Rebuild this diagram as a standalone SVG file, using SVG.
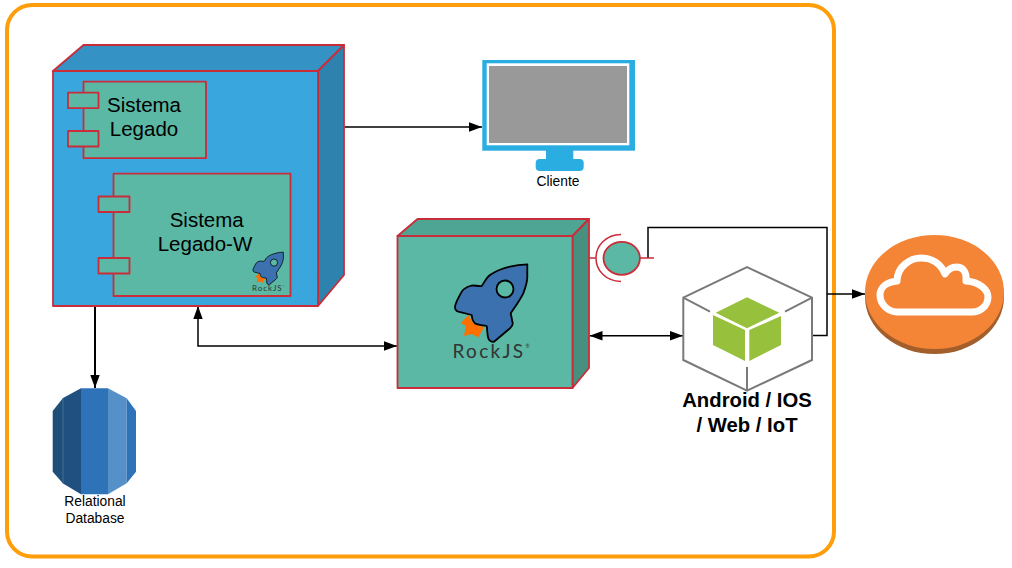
<svg xmlns="http://www.w3.org/2000/svg" xmlns:xlink="http://www.w3.org/1999/xlink" width="1012" height="568" viewBox="0 0 1012 568">
<style>
.lbl{font-family:"Liberation Sans",Arial,sans-serif;fill:#000;text-anchor:middle}
.big{font-size:20.500px}
.sm{font-size:13.800px}
.b{font-size:20.300px;font-weight:bold}
.red{stroke:#c92d39;stroke-width:1.800;stroke-linejoin:round}
.teal{fill:#5ab8a4}
.conn{fill:none;stroke:#000;stroke-width:1.500}
.hex{fill:none;stroke:#7a7a7a;stroke-width:2}
</style>
<defs>
<marker id="arr" markerUnits="userSpaceOnUse" markerWidth="14" markerHeight="10" refX="13" refY="5" orient="auto-start-reverse"><path d="M0,.3L13,5L0,9.700Z" fill="#000"/></marker>
<g id="rocket">
<path d="M460.700,323.300L468.300,315L473.300,323.300L484,327.300L478.300,337.300L471.700,334L464,336L466,325.700Z" fill="#ff6f00"/>
<path d="M527.300,264.300C520,264.500 516,265 510,266.700C502,268.500 496,271 490,275C486,278 484,283 481.700,286C477,286.500 474,284.500 470,286C465,287.500 463.500,289 461.700,291.700C459,297 456,301 455,306.700C455,309.500 456,311 458.300,311.700L471.700,315C472,318.500 473,321.500 475,323.300C478,325.500 483,325 486.700,326C487.500,330 487,334.500 488.300,338.300C489.500,341 492,342.500 494,341.700L510,328.300C512,326.500 513,325 512.700,323.300L510.700,313.300C515,307 520,300 523.300,293.300C526,286 527.500,282 527.300,276.700Z" fill="#3a71ae" stroke="#000" stroke-width="1.800" stroke-linejoin="round"/>
<circle cx="505" cy="289" r="8.500" class="teal" stroke="#000" stroke-width="1.800"/>
<text x="452.500" y="357.700" font-family="Lato,'Liberation Sans',sans-serif" font-size="19" letter-spacing="2.300" fill="#333">RockJS<tspan font-size="5" dy="-10">®</tspan></text>
</g>
</defs>
<rect id="bg" width="1012" height="568" fill="#fff"/>
<rect id="boundary" x="7" y="5" width="827" height="551.500" rx="25" fill="#fff" stroke="#ff9d0a" stroke-width="4"/>

<g id="connectors">
<path class="conn" d="M344.500,127H482" marker-end="url(#arr)"/>
<path class="conn" style="stroke-width:2" d="M95,306V388" marker-end="url(#arr)"/>
<path class="conn" d="M198,306V346H397" marker-start="url(#arr)" marker-end="url(#arr)"/>
<path class="conn" d="M589.500,335.700H683" marker-start="url(#arr)" marker-end="url(#arr)"/>
<path class="conn" d="M648,258V227.500H827V335.500H812"/>
<path class="conn" d="M827,294H865" marker-end="url(#arr)"/>
</g>

<g id="sistema-node">
<path class="red" d="M53,71L83.500,45H344L318,71Z" fill="#3592c4"/>
<path class="red" d="M318,71L344,45V275L318,306Z" fill="#2e82ae"/>
<rect class="red" x="53" y="71" width="265" height="235" fill="#3aa6de" stroke-width="2"/>
</g>
<g id="sistema-legado">
<rect class="red teal" x="83.500" y="81.700" width="122.500" height="76.500"/>
<rect class="red teal" x="68" y="92.700" width="30.500" height="15.500" stroke-width="2"/>
<rect class="red teal" x="68" y="131" width="30.500" height="15.500"/>
<text class="lbl big" x="144" y="111.700">Sistema</text>
<text class="lbl big" x="144" y="136">Legado</text>
</g>
<g id="sistema-legado-w">
<rect class="red teal" x="113.500" y="173.700" width="177" height="122.300"/>
<rect class="red teal" x="98.500" y="196.500" width="31" height="15.500"/>
<rect class="red teal" x="98.500" y="258" width="31" height="15.500" stroke-width="2"/>
<text class="lbl big" x="206.700" y="226.700">Sistema</text>
<text class="lbl big" x="205" y="250.700">Legado-W</text>
<use href="#rocket" transform="translate(61.900,141.200) scale(.42)"/>
</g>
<g id="rockjs-node">
<path class="red" d="M397.500,236L417.500,219H589L572.500,236Z" fill="#4fa594"/>
<path class="red" d="M572.500,236L589,219V368L572.500,388Z" fill="#479080"/>
<rect class="red teal" x="397.500" y="236" width="175" height="152"/>
<use href="#rocket"/>
</g>
<g id="interface">
<path d="M589,258H596M640,258H654" fill="none" stroke="#c92d39" stroke-width="1.500"/>
<path d="M621,234.500C605,235 596,246 596,258C596,270 605,281 621,281.500" fill="none" stroke="#c92d39" stroke-width="1.500"/>
<ellipse class="red teal" cx="621.700" cy="258.300" rx="18.200" ry="16.500"/>
</g>
<g id="cliente">
<rect x="482.300" y="60" width="152.700" height="90.700" fill="#2aaee2"/>
<rect x="486.700" y="63.300" width="142.600" height="82" fill="#fff"/>
<rect x="489" y="66" width="138" height="77" fill="#999"/>
<rect x="546" y="150" width="27.300" height="10" fill="#2aaee2"/>
<rect x="535.700" y="159" width="48" height="12" rx="4" fill="#2aaee2"/>
<text class="lbl sm" x="558" y="185.500">Cliente</text>
</g>
<g id="database">
<path d="M52.700,411L63,398V483.600L52.700,471.700Z" fill="#1f4f79"/>
<path d="M63,398L81,388.300V494.300L63,483.600Z" fill="#20507f"/>
<path d="M63,398V483.600" stroke="#4d7ca6" stroke-width=".7" fill="none"/>
<path d="M81,388.300H108V494.300H81Z" fill="#2e73b8"/>
<path d="M108,388.300L126.700,398.300V483.300L108,494.300Z" fill="#5590c8"/>
<path d="M126.700,398.300L136,411V471.700L126.700,483.300Z" fill="#2e73b8"/>
<text class="lbl sm" x="95" y="506.300">Relational</text>
<text class="lbl sm" x="95" y="522.700">Database</text>
</g>
<g id="devices">
<path class="hex" d="M683.300,297.700L747,267L812,297.700V360L747,390.700L683.300,360Z"/>
<path class="hex" d="M683.300,297.700L710,311.700M812,297.700L785,311.700M747,390.700V367"/>
<path d="M747,297.300L779.300,312.700L747,328.300L715.700,312.700Z" fill="#97c03d"/>
<path d="M713,315L745,330V361L713,345Z" fill="#97c03d"/>
<path d="M749.300,330L781,316V345L749.300,361Z" fill="#97c03d"/>
<text class="lbl b" x="747" y="406.700">Android / IOS</text>
<text class="lbl b" x="747" y="431.700">/ Web / IoT</text>
</g>
<g id="cloud">
<ellipse cx="934.500" cy="297" rx="69.500" ry="57" fill="#a35f2b"/>
<ellipse cx="934.500" cy="292" rx="69.500" ry="57" fill="#f58536"/>
<path d="M897,312C888,312 880,304 880,295C880,287 887,282 897,281C897,267 910,258 921,258C932,258 941,264 945,274C948,269 953,267 957,267C964,267 967,274 966,281C980,282 988,290 988,297C988,306 980,312 972,312Z" fill="none" stroke="#fff" stroke-width="7" stroke-linejoin="round"/>
</g>
</svg>
